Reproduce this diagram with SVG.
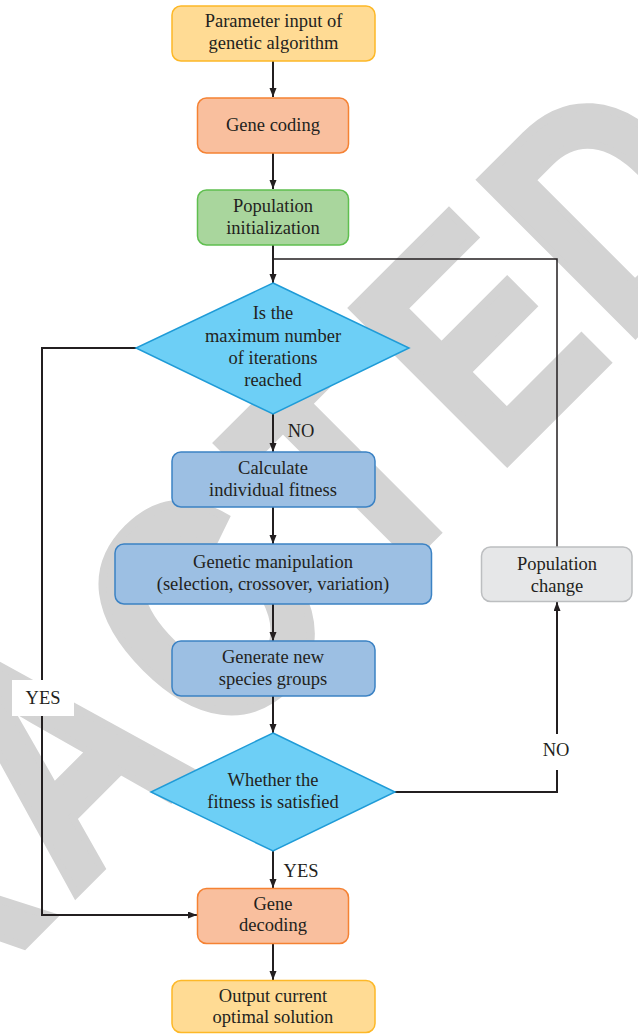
<svg xmlns="http://www.w3.org/2000/svg" width="638" height="1034" viewBox="0 0 638 1034">
<defs>
<style>
.t{font-family:"Liberation Serif","Times New Roman",serif;font-size:18.5px;fill:#231f20;text-anchor:middle}
.ln{fill:none;stroke:#231f20;stroke-width:2}
.ln2{fill:none;stroke:#231f20;stroke-width:1.5}
.yel{fill:#ffdb94;stroke:#fdb827;stroke-width:1.5}
.sal{fill:#f9bf9e;stroke:#f58233;stroke-width:1.5}
.grn{fill:#a9d69d;stroke:#5fbf4f;stroke-width:1.5}
.dia{fill:#6dcff6;stroke:#1f9bd7;stroke-width:1.5}
.blu{fill:#9cbfe3;stroke:#3b82c4;stroke-width:1.5}
.gry{fill:#e6e7e8;stroke:#bcbec0;stroke-width:1.5}
</style>
<marker id="ah" markerUnits="userSpaceOnUse" markerWidth="10" markerHeight="8" refX="9" refY="3.5" orient="auto">
<path d="M0,0 L9,3.5 L0,7 z" fill="#231f20"/>
</marker>
</defs>
<rect width="638" height="1034" fill="#ffffff"/>
<text id="watermark" transform="translate(505,464) rotate(-45) scale(0.8,1)" x="-1732.5 -1478 -1241 -1021.8 -767 -511 -239.5 -18.25 208.4" y="0" font-family="Liberation Sans, Arial, sans-serif" font-weight="bold" font-size="316" fill="#d3d3d3" stroke="#d3d3d3" stroke-width="9">RETRACTED</text>

<g id="connectors">
<path class="ln" d="M273,61 V97" marker-end="url(#ah)"/>
<path class="ln" d="M273,153 V189" marker-end="url(#ah)"/>
<path class="ln" d="M273,245 V283" marker-end="url(#ah)"/>
<path class="ln2" d="M557,547 V259 H273"/>
<path class="ln" d="M273,414 V452" marker-end="url(#ah)"/>
<path class="ln" d="M273,507 V544" marker-end="url(#ah)"/>
<path class="ln" d="M273,604 V641" marker-end="url(#ah)"/>
<path class="ln" d="M273,696 V733" marker-end="url(#ah)"/>
<path class="ln" d="M395,792 H557 V602" marker-end="url(#ah)"/>
<path class="ln" d="M273,851 V888" marker-end="url(#ah)"/>
<path class="ln" d="M136,348 H42 V915 H197" marker-end="url(#ah)"/>
<path class="ln" d="M273,943 V980" marker-end="url(#ah)"/>
<rect x="12" y="680" width="62" height="36" fill="#ffffff"/>
<text class="t" x="43" y="704">YES</text>
<rect x="538" y="734" width="38" height="36" fill="#ffffff"/>
<text class="t" x="556" y="756">NO</text>
<text class="t" x="301" y="437">NO</text>
<text class="t" x="301" y="877">YES</text>
</g>

<g id="n1"><rect class="yel" x="172" y="6" width="203" height="55" rx="9"/>
<text class="t" x="273.5" y="27">Parameter input of</text><text class="t" x="273.5" y="49">genetic algorithm</text></g>
<g id="n2"><rect class="sal" x="197.5" y="98" width="151" height="55" rx="9"/>
<text class="t" x="273" y="131">Gene coding</text></g>
<g id="n3"><rect class="grn" x="197.5" y="190" width="151" height="55" rx="9"/>
<text class="t" x="273" y="211.5">Population</text><text class="t" x="273" y="233.5">initialization</text></g>
<g id="n4"><polygon class="dia" points="273,283 409,348 273,414 136,348"/>
<text class="t" x="273" y="319">Is the</text><text class="t" x="273" y="342">maximum number</text><text class="t" x="273" y="364">of iterations</text><text class="t" x="273" y="386">reached</text></g>
<g id="n5"><rect class="blu" x="172" y="452" width="203" height="55" rx="9"/>
<text class="t" x="273" y="473.5">Calculate</text><text class="t" x="273" y="495.5">individual fitness</text></g>
<g id="n6"><rect class="blu" x="115" y="544" width="316.5" height="60" rx="9"/>
<text class="t" x="273" y="567.5">Genetic manipulation</text><text class="t" x="273" y="589.5">(selection, crossover, variation)</text></g>
<g id="n7"><rect class="blu" x="172" y="641" width="203" height="55" rx="9"/>
<text class="t" x="273" y="663">Generate new</text><text class="t" x="273" y="684.5">species groups</text></g>
<g id="n8"><polygon class="dia" points="273,733 395,792 273,851 151,792"/>
<text class="t" x="273" y="785.5">Whether the</text><text class="t" x="273" y="808">fitness is satisfied</text></g>
<g id="n9"><rect class="gry" x="481.5" y="547" width="150.5" height="54.5" rx="9"/>
<text class="t" x="557" y="570">Population</text><text class="t" x="557" y="591.5">change</text></g>
<g id="n10"><rect class="sal" x="197.5" y="888.5" width="151" height="55" rx="9"/>
<text class="t" x="273" y="909.5">Gene</text><text class="t" x="273" y="931">decoding</text></g>
<g id="n11"><rect class="yel" x="172" y="980.5" width="203" height="52" rx="9"/>
<text class="t" x="273" y="1001.5">Output current</text><text class="t" x="273" y="1023">optimal solution</text></g>
</svg>
